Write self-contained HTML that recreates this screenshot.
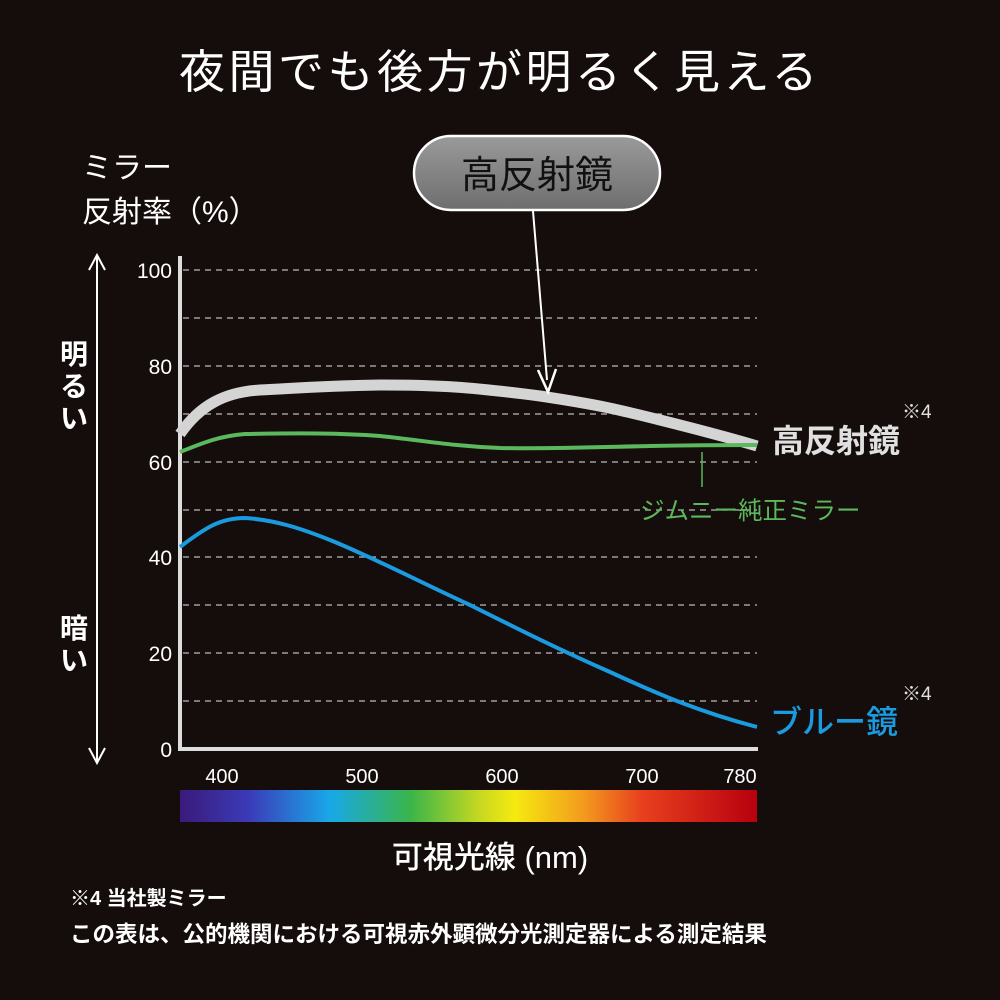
<!DOCTYPE html>
<html><head><meta charset="utf-8"><style>
body{margin:0;background:#150d0b;}
svg{display:block}
text{font-family:"Liberation Sans","Noto Sans CJK JP",sans-serif;}
</style></head><body>
<svg width="1000" height="1000" viewBox="0 0 1000 1000">
<defs>
<linearGradient id="sp" x1="0" x2="1">
<stop offset="0" stop-color="#3a1a7a"/><stop offset="0.12" stop-color="#3b3bb8"/><stop offset="0.26" stop-color="#19a8e8"/><stop offset="0.4" stop-color="#3ab54a"/><stop offset="0.52" stop-color="#c8d820"/><stop offset="0.58" stop-color="#f5ea10"/><stop offset="0.7" stop-color="#f39a1e"/><stop offset="0.8" stop-color="#e8401e"/><stop offset="1" stop-color="#b8000e"/>
</linearGradient>
<linearGradient id="bub" x1="0" y1="0" x2="0" y2="1"><stop offset="0" stop-color="#9a9a9a"/><stop offset="1" stop-color="#6e6e6e"/></linearGradient>
</defs>
<rect width="1000" height="1000" fill="#150d0b"/>
<text x="500" y="88" font-size="46" fill="#fff" text-anchor="middle" letter-spacing="3.5">夜間でも後方が明るく見える</text>
<text x="82" y="178" font-size="30" fill="#fff">ミラー</text>
<text x="82" y="222" font-size="30" fill="#fff">反射率（%）</text>
<line x1="97" y1="256" x2="97" y2="762" stroke="#fff" stroke-width="2"/>
<polyline points="89,270 97,255 105,270" fill="none" stroke="#fff" stroke-width="2"/>
<polyline points="89,748 97,763 105,748" fill="none" stroke="#fff" stroke-width="2"/>
<g font-size="28" fill="#fff" font-weight="bold">
<text x="60" y="364">明</text><text x="60" y="396">る</text><text x="60" y="428">い</text>
<text x="60" y="638">暗</text><text x="60" y="670">い</text>
</g>
<g stroke="#bbb" stroke-width="1.3" stroke-dasharray="6,5">
<line x1="183" x2="757" y1="270" y2="270"/><line x1="183" x2="757" y1="318" y2="318"/><line x1="183" x2="757" y1="366" y2="366"/><line x1="183" x2="757" y1="414" y2="414"/><line x1="183" x2="757" y1="462" y2="462"/><line x1="183" x2="757" y1="510" y2="510"/><line x1="183" x2="757" y1="557" y2="557"/><line x1="183" x2="757" y1="605" y2="605"/><line x1="183" x2="757" y1="653" y2="653"/><line x1="183" x2="757" y1="701" y2="701"/>
</g>
<g font-size="21" fill="#fff" text-anchor="end">
<text x="172" y="278">100</text><text x="172" y="374">80</text><text x="172" y="470">60</text><text x="172" y="565">40</text><text x="172" y="661">20</text><text x="172" y="757">0</text>
</g>
<line x1="180" y1="256" x2="180" y2="751" stroke="#ddd" stroke-width="4"/>
<line x1="178" y1="749" x2="758" y2="749" stroke="#ddd" stroke-width="4"/>
<g font-size="20" fill="#fff" text-anchor="middle">
<text x="222" y="783">400</text><text x="362" y="783">500</text><text x="502" y="783">600</text><text x="642" y="783">700</text><text x="740" y="783">780</text>
</g>
<rect x="180" y="790" width="577" height="32" fill="url(#sp)"/>
<text x="490" y="868" font-size="31" fill="#fff" text-anchor="middle" font-weight="500">可視光線 (nm)</text>
<path d="M180,434 C200,405 225,392 260,390 C300,388 320,386 380,385 C440,385 470,387 540,396 C600,405 620,410 660,420 C700,430 730,438 757,446" fill="none" stroke="#d4d4d4" stroke-width="11"/>
<path d="M180,452 C205,442 220,436 245,434 C300,433 340,433 380,436 C420,440 450,446 500,448 C560,449 600,447 650,446 C700,445 730,445 757,445" fill="none" stroke="#5cb85c" stroke-width="4"/>
<path d="M180,547 C205,528 220,518 245,518 C275,520 300,528 330,540 C370,556 420,582 470,605 C520,630 560,650 610,672 C660,695 700,712 757,727" fill="none" stroke="#1a9be0" stroke-width="4"/>
<line x1="702" y1="452" x2="702" y2="487" stroke="#5cb85c" stroke-width="1.5"/>
<text x="772" y="452" font-size="32" fill="#e0e0e0" font-weight="bold">高反射鏡</text>
<text x="902" y="418" font-size="19" fill="#e0e0e0">※4</text>
<text x="640" y="519" font-size="24.5" fill="#5cb85c">ジムニー純正ミラー</text>
<text x="770" y="733" font-size="32" fill="#1a9be0" font-weight="500">ブルー鏡</text>
<text x="902" y="700" font-size="19" fill="#e0e0e0">※4</text>
<rect x="414" y="136" width="246" height="74" rx="37" fill="url(#bub)" stroke="#fff" stroke-width="2.5"/>
<text x="537" y="188" font-size="38" fill="#111" text-anchor="middle">高反射鏡</text>
<line x1="533" y1="211" x2="547" y2="380" stroke="#fff" stroke-width="2"/>
<polyline points="538,370 548,392 556,369" fill="none" stroke="#fff" stroke-width="2.5"/>
<text x="70" y="905" font-size="20" fill="#fff" font-weight="bold">※4 当社製ミラー</text>
<text x="70" y="942" font-size="22.5" fill="#fff" font-weight="bold">この表は、公的機関における可視赤外顕微分光測定器による測定結果</text>
</svg>
</body></html>
